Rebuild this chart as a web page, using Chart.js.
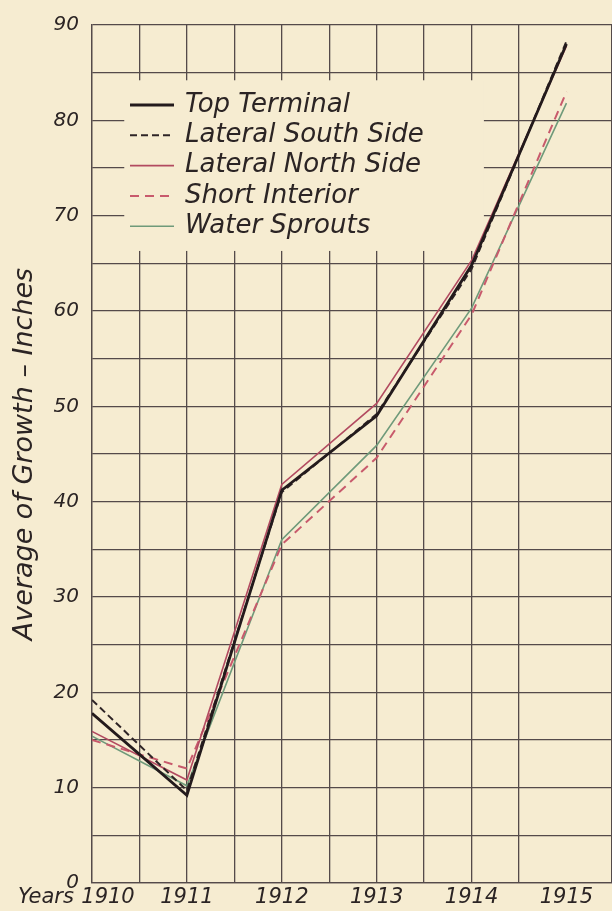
<!DOCTYPE html>
<html>
<head>
<meta charset="utf-8">
<script src="https://cdn.jsdelivr.net/npm/chart.js@4"></script>
<style>
  html, body { margin: 0; padding: 0; background: #f6ecd1; }
  #wrap { width: 612px; height: 911px; position: relative; }
</style>
</head>
<body>
<div id="wrap"><canvas id="growthChart"></canvas></div>
<script>
// dados (polegadas de crescimento medio)
const years = [1910, 1911, 1912, 1913, 1914, 1915];
const seriesNames = ['Top Terminal', 'Lateral South Side', 'Lateral North Side', 'Short Interior', 'Water Sprouts'];
const topTerminal   = [17.8, 9.2, 41.2, 49.0, 64.8, 88.0];
const lateralSouth  = [19.2, 9.7, 41.0, 49.2, 64.4, 88.3];
const lateralNorth  = [15.9, 10.8, 41.8, 50.3, 65.3, 87.8];
const shortInterior = [15.0, 12.0, 35.5, 44.6, 59.6, 83.0];
const waterSprouts  = [15.4, 10.2, 36.0, 45.9, 60.3, 81.8];
const yTickLabels = [0, 10, 20, 30, 40, 50, 60, 70, 80, 90];

const ink = '#2b2424';
const gridColor = '#544a4a';
const fontFam = '"DejaVu Sans", sans-serif';

function pts(vals) {
  return years.map((yr, i) => ({ x: yr, y: vals[i] }));
}

const styles = [
  { color: '#231a1c', width: 2.8, dash: [] },
  { color: '#2e2426', width: 2.0, dash: [7, 4] },
  { color: '#b24a60', width: 1.6, dash: [] },
  { color: '#c85a6c', width: 2.0, dash: [9, 6] },
  { color: '#6f9a7a', width: 1.6, dash: [] }
];
const values = [topTerminal, lateralSouth, lateralNorth, shortInterior, waterSprouts];

const datasets = seriesNames.map((name, i) => ({
  label: name,
  data: pts(values[i]),
  borderColor: styles[i].color,
  borderWidth: styles[i].width,
  borderDash: styles[i].dash,
  pointRadius: 0,
  tension: 0,
  fill: false
}));

// caixa da legenda que cobre a grade + legenda desenhada a mao
const legendBox = {
  id: 'legendBox',
  beforeDatasetsDraw(chart) {
    const { ctx, scales } = chart;
    const x0 = scales.x.getPixelForValue(1910.34);
    const x1 = scales.x.getPixelForValue(1914.13);
    const y0 = scales.y.getPixelForValue(84.2);
    const y1 = scales.y.getPixelForValue(66.3);
    ctx.save();
    ctx.fillStyle = '#f6ecd1';
    ctx.fillRect(x0, y0, x1 - x0, y1 - y0);
    ctx.restore();
  },
  afterDatasetsDraw(chart) {
    const { ctx, chartArea } = chart;
    ctx.save();
    ctx.font = 'italic 26px ' + fontFam;
    ctx.textBaseline = 'middle';
    chart.data.datasets.forEach((ds, i) => {
      const y = chartArea.top + 80 + i * 30.3;
      const lx = chartArea.left + 38;
      ctx.strokeStyle = ds.borderColor;
      ctx.lineWidth = ds.borderWidth;
      ctx.setLineDash(ds.borderDash);
      ctx.beginPath();
      ctx.moveTo(lx, y);
      ctx.lineTo(lx + 44, y);
      ctx.stroke();
      ctx.setLineDash([]);
      ctx.fillStyle = ink;
      ctx.fillText(ds.label, lx + 55, y);
    });
    ctx.restore();
  }
};

// rotulos do eixo x (anos)
const yearLabels = {
  id: 'yearLabels',
  afterDraw(chart) {
    const { ctx, scales } = chart;
    const y = scales.y.getPixelForValue(0) + 15;
    ctx.save();
    ctx.font = 'italic 21px ' + fontFam;
    ctx.fillStyle = ink;
    ctx.textBaseline = 'middle';
    ctx.textAlign = 'center';
    years.forEach((yr, i) => {
      const off = i === 0 ? 16 : 0;
      ctx.fillText(String(yr), scales.x.getPixelForValue(yr) + off, y);
    });
    ctx.textAlign = 'left';
    ctx.fillText('Years', 18, y);
    ctx.restore();
  }
};

const canvas = document.getElementById('growthChart').getContext('2d');
new Chart(canvas, {
  type: 'line',
  data: { datasets: datasets },
  options: {
    responsive: true,
    maintainAspectRatio: false,
    animation: false,
    layout: { padding: { top: 18, right: 0, left: 0, bottom: 0 } },
    plugins: {
      legend: { display: false },
      tooltip: { enabled: false }
    },
    scales: {
      x: {
        type: 'linear',
        min: 1910,
        max: 1915.48,
        ticks: { display: false, stepSize: 0.5 },
        grid: { color: gridColor, lineWidth: 1.3, drawTicks: false },
        border: { color: gridColor, width: 1.3 },
        afterFit(scale) { scale.height = 28; }
      },
      y: {
        min: 0,
        max: 90,
        ticks: {
          stepSize: 5,
          padding: 13,
          color: ink,
          font: { family: fontFam, size: 20, style: 'italic' },
          callback: v => yTickLabels.includes(v) ? v : ''
        },
        grid: { color: gridColor, lineWidth: 1.3, drawTicks: false },
        border: { color: gridColor, width: 1.3 },
        title: {
          display: true,
          text: 'Average of Growth – Inches',
          color: ink,
          font: { family: fontFam, size: 27, style: 'italic' },
          padding: { top: 9, bottom: 0 }
        },
        afterFit(scale) { scale.width = 92; }
      }
    }
  },
  plugins: [legendBox, yearLabels]
});
</script>
</body>
</html>
